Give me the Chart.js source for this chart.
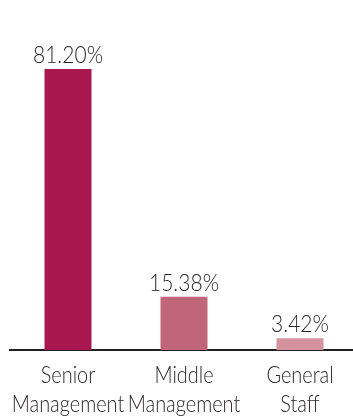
<!DOCTYPE html>
<html>
<head>
<meta charset="utf-8">
<script src="https://cdn.jsdelivr.net/npm/chart.js@4"></script>
<style>
  html, body { margin: 0; padding: 0; background: #fff; overflow: hidden; }
  #wrap { width: 358px; height: 417px; position: relative; }
</style>
</head>
<body>
<div id="wrap"><canvas id="c"></canvas></div>
<script>
const categories = [["Senior", "Management"], ["Middle", "Management"], ["General", "Staff"]];
const shares = [81.20, 15.38, 3.42];
const barColors = ["#a8184f", "#c0667a", "#d4929d"];

const textColor = "#2b2627";
const fontFamily = "Lato, sans-serif";
const fontSize = 24;
const valueSqueeze = 0.875;   // horizontal squeeze for a condensed look
const labelSqueeze = 0.83;

function drawNarrowText(ctx, text, x, y, squeeze) {
  ctx.save();
  ctx.translate(x, y);
  ctx.scale(squeeze, 1);
  ctx.fillText(text, 0, 0);
  ctx.restore();
}

// Percentage above each bar and the category names under the axis,
// both positioned from the chart's own elements and x scale
const textLayer = {
  id: "textLayer",
  afterDraw(chart) {
    const { ctx } = chart;
    const meta = chart.getDatasetMeta(0);
    const xScale = chart.scales.x;
    const base = chart.chartArea.bottom;
    ctx.save();
    ctx.font = "300 " + fontSize + "px " + fontFamily;
    ctx.fillStyle = textColor;
    ctx.textAlign = "center";
    ctx.textBaseline = "alphabetic";
    meta.data.forEach((bar, i) => {
      drawNarrowText(ctx, shares[i].toFixed(2) + "%", bar.x, bar.y - 6, valueSqueeze);
    });
    categories.forEach((lines, i) => {
      const x = xScale.getPixelForTick(i);
      lines.forEach((line, j) => {
        drawNarrowText(ctx, line, x, base + 33 + j * 29, labelSqueeze);
      });
    });
    ctx.restore();
  }
};

new Chart(document.getElementById("c"), {
  type: "bar",
  data: {
    labels: categories,
    datasets: [{
      data: shares,
      backgroundColor: barColors,
      borderWidth: 0,
      barPercentage: 0.405,
      categoryPercentage: 1
    }]
  },
  options: {
    responsive: true,
    maintainAspectRatio: false,
    animation: false,
    layout: { padding: { left: 10, right: 0, top: 4, bottom: 67 } },
    plugins: { legend: { display: false }, tooltip: { enabled: false } },
    scales: {
      x: {
        grid: { display: false, drawTicks: false },
        border: { display: true, color: "#231f20", width: 2 },
        ticks: { display: false }
      },
      y: {
        display: false,
        min: 0,
        max: 100
      }
    }
  },
  plugins: [textLayer]
});
</script>
</body>
</html>
